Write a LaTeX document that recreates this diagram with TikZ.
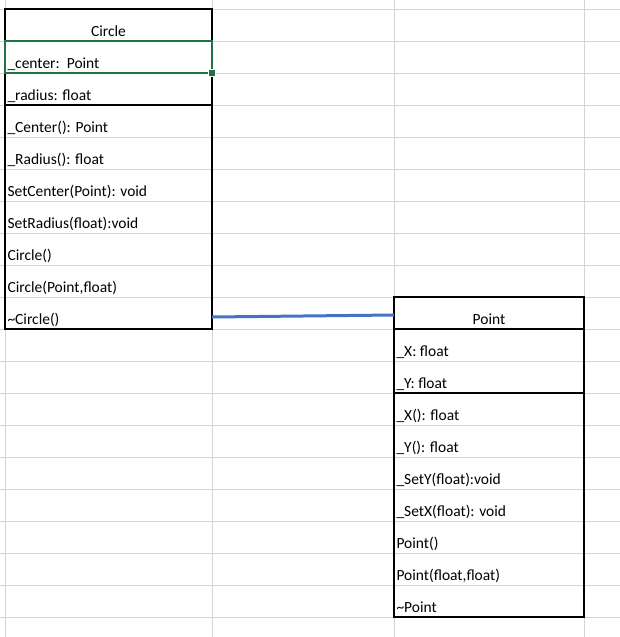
\documentclass[tikz,border=0pt]{standalone}
\usepackage{fontspec}
\setmainfont{Carlito}
\usetikzlibrary{calc}
\definecolor{gridgray}{HTML}{D4D4D4}
\definecolor{selgreen}{HTML}{217346}
\definecolor{linkblue}{HTML}{4472C4}
\begin{document}
\begin{tikzpicture}[x=1pt,y=-1pt,
  gridline/.style={draw=gridgray,line width=1pt},
  umlbox/.style={draw=black,line width=2pt,anchor=north west,inner sep=0pt,outer sep=0pt},
  sepline/.style={draw=black,line width=2pt},
  celltext/.style={anchor=base west,inner sep=0pt,outer sep=0pt,font=\fontsize{15.5}{18}\selectfont},
  titletext/.style={anchor=base,inner sep=0pt,outer sep=0pt,font=\fontsize{15.5}{18}\selectfont},
  link/.style={draw=linkblue,line width=3pt}
]
\useasboundingbox (0,0) rectangle (620,637);
% spreadsheet grid
\foreach \k in {0,...,19} \draw[gridline] (0,9+32*\k) -- (620,9+32*\k);
\foreach \x in {5,212,394,584} \draw[gridline] (\x,0) -- (\x,637);

% Circle class
\node[umlbox,minimum width=207pt,minimum height=320pt] (circlebox) at (5,9) {};
\draw[sepline] ($(circlebox.north west)+(0,32)$) -- ($(circlebox.north east)+(0,32)$);
\draw[sepline] ($(circlebox.north west)+(0,96)$) -- ($(circlebox.north east)+(0,96)$);
\node[titletext] (ctitle) at (108.5,36.5) {Circle};
\node[celltext] (c1) at (7.5,68.5) {\_center:\ \ Point};
\node[celltext] (c2) at (7.5,100.5) {\_radius: float};
\node[celltext] (c3) at (7.5,132.5) {\_Center(): Point};
\node[celltext] (c4) at (7.5,164.5) {\_Radius(): float};
\node[celltext] (c5) at (7.5,196.5) {SetCenter(Point): void};
\node[celltext] (c6) at (7.5,228.5) {SetRadius(float):void};
\node[celltext] (c7) at (7.5,260.5) {Circle()};
\node[celltext] (c8) at (7.5,292.5) {Circle(Point,float)};
\node[celltext] (c9) at (7.5,324.5) {\textasciitilde Circle()};

% selection
\node[draw=selgreen,line width=2pt,anchor=north west,inner sep=0pt,outer sep=0pt,minimum width=207pt,minimum height=32pt] (sel) at (5,41) {};
\node[fill=selgreen,draw=white,line width=1pt,minimum size=7pt,inner sep=0pt] (handle) at (sel.south east) {};

% Point class
\node[umlbox,minimum width=190pt,minimum height=320pt] (pointbox) at (394,297) {};
\draw[sepline] ($(pointbox.north west)+(0,32)$) -- ($(pointbox.north east)+(0,32)$);
\draw[sepline] ($(pointbox.north west)+(0,96)$) -- ($(pointbox.north east)+(0,96)$);
\node[titletext] (ptitle) at (489,324.5) {Point};
\node[celltext] (p1) at (396.5,356.5) {\_X: float};
\node[celltext] (p2) at (396.5,388.5) {\_Y: float};
\node[celltext] (p3) at (396.5,420.5) {\_X(): float};
\node[celltext] (p4) at (396.5,452.5) {\_Y(): float};
\node[celltext] (p5) at (396.5,484.5) {\_SetY(float):void};
\node[celltext] (p6) at (396.5,516.5) {\_SetX(float): void};
\node[celltext] (p7) at (396.5,548.5) {Point()};
\node[celltext] (p8) at (396.5,580.5) {Point(float,float)};
\node[celltext] (p9) at (396.5,612.5) {\textasciitilde Point};

% association
\draw[link] ($(circlebox.south east)+(0,-12)$) -- ($(pointbox.north west)+(0,18)$);
\end{tikzpicture}
\end{document}
